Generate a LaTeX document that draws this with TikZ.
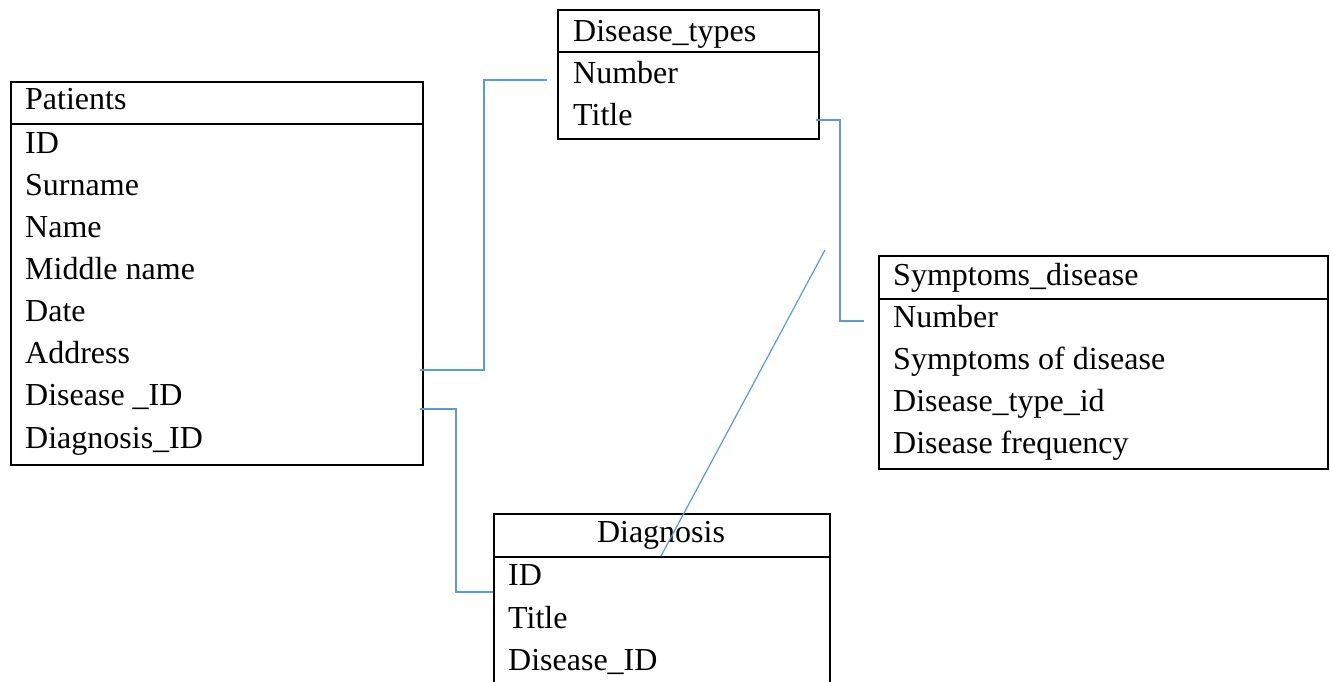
\documentclass[tikz,border=0pt]{standalone}
\usepackage{fontspec}
\setmainfont{Liberation Serif}
\definecolor{linkblue}{RGB}{91,155,213}
\begin{document}
\begin{tikzpicture}[x=1pt,y=-1pt,
  tbl/.style={draw=black,line width=1.6pt,inner sep=0pt,anchor=north west},
  sep/.style={draw=black,line width=1.6pt},
  lnk/.style={draw=linkblue,line width=1.2pt},
  txt/.style={anchor=base west,inner sep=0pt,font=\fontsize{32}{38}\selectfont},
  ttl/.style={anchor=base,inner sep=0pt,font=\fontsize{32}{38}\selectfont}]
\clip (0,0) rectangle (1330,681);
\fill[white] (0,0) rectangle (1330,681);

% Patients
\node[tbl,minimum width=412pt,minimum height=383pt] (patients) at (10,81) {};
\draw[sep] (10,124) -- (422,124);
\node[txt] (p0) at (25,109) {Patients};
\node[txt] (p1) at (25,153) {ID};
\node[txt] (p2) at (25,195.1) {Surname};
\node[txt] (p3) at (25,237.3) {Name};
\node[txt] (p4) at (25,279.4) {Middle name};
\node[txt] (p5) at (25,321.6) {Date};
\node[txt] (p6) at (25,363.7) {Address};
\node[txt] (p7) at (25,405.9) {Disease \_ID};
\node[txt] (p8) at (25,448) {Diagnosis\_ID};

% Disease_types
\node[tbl,minimum width=261pt,minimum height=129pt] (dtypes) at (557,9) {};
\draw[sep] (557,52) -- (818,52);
\node[txt] (d0) at (573,41.7) {Disease\_types};
\node[txt] (d1) at (573,83.3) {Number};
\node[txt] (d2) at (573,125) {Title};

% Symptoms_disease
\node[tbl,minimum width=449pt,minimum height=213pt] (symp) at (878,255) {};
\draw[sep] (878,299) -- (1327,299);
\node[txt] (s0) at (893,285) {Symptoms\_disease};
\node[txt] (s1) at (893,327) {Number};
\node[txt] (s2) at (893,369.5) {Symptoms of disease};
\node[txt] (s3) at (893,411.7) {Disease\_type\_id};
\node[txt] (s4) at (893,453.5) {Disease frequency};

% Diagnosis
\node[tbl,minimum width=336pt,minimum height=200pt] (diag) at (493,513) {};
\draw[sep] (493,557) -- (829,557);
\node[ttl] (g0) at (661,542.7) {Diagnosis};
\node[txt] (g1) at (508,585) {ID};
\node[txt] (g2) at (508,628) {Title};
\node[txt] (g3) at (508,670) {Disease\_ID};

% connectors
\coordinate (c1a) at (420,370);
\coordinate (c1b) at (547,80);
\draw[lnk] (c1a) -- (484,370) -- (484,80) -- (c1b);

\coordinate (c2a) at (816,120);
\coordinate (c2b) at (864,321);
\draw[lnk] (c2a) -- (840,120) -- (840,321) -- (c2b);

\coordinate (c3a) at (420,409);
\coordinate (c3b) at (493,592);
\draw[lnk] (c3a) -- (456,409) -- (456,592) -- (c3b);

\coordinate (c4a) at (825,250);
\coordinate (c4b) at (661,556);
\draw[lnk] (c4a) -- (c4b);
\end{tikzpicture}
\end{document}
